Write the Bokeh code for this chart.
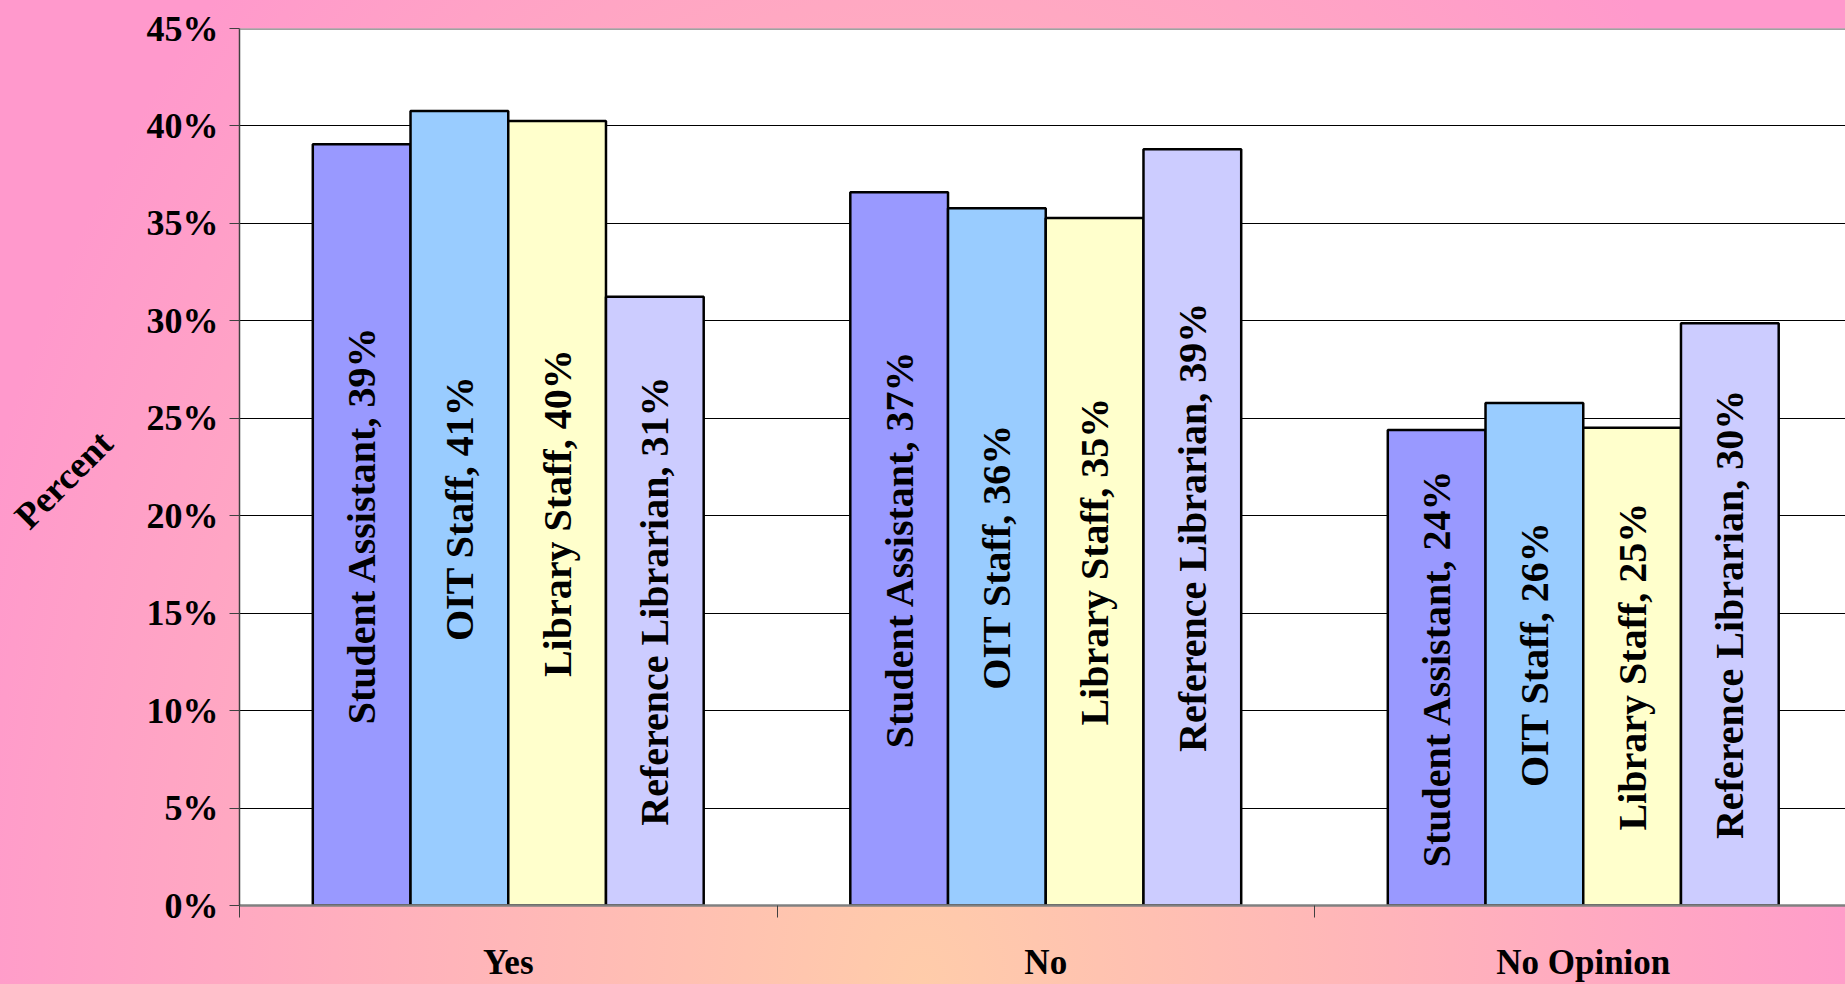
import math
from bokeh.plotting import figure
from bokeh.models import Range1d, FixedTicker, PrintfTickFormatter, Span, ColumnDataSource, Label
from bokeh.core.properties import value
from bokeh.embed import file_html
from bokeh.resources import INLINE

categories = ["Yes", "No", "No Opinion"]
series_names = ["Student Assistant", "OIT Staff", "Library Staff", "Reference Librarian"]
student_assistant = [39.06, 36.60, 24.40]
oit_staff = [40.77, 35.78, 25.78]
library_staff = [40.26, 35.28, 24.52]
reference_librarian = [31.23, 38.80, 29.87]
series_values = [student_assistant, oit_staff, library_staff, reference_librarian]
series_colors = ["#9999FF", "#99CCFF", "#FFFFCC", "#CCCCFF"]
y_ticks = [0, 5, 10, 15, 20, 25, 30, 35, 40, 45]
y_title = "Percent"

FONT = "Liberation Serif"
W, H = 1845, 984
LEFT, TOP, BOTTOM = 239, 28, 78
CAT_PX = 537.5
n_series = len(series_names)
bar_w = 1.0 / (n_series + 1.5)

p = figure(width=W, height=H, output_backend="svg", toolbar_location=None,
           x_range=Range1d(0, (W - LEFT) / CAT_PX), y_range=Range1d(0, 45),
           min_border_left=LEFT, min_border_right=0, min_border_top=TOP,
           min_border_bottom=BOTTOM)
p.styles = {"background-image": "radial-gradient(ellipse 1000px 1400px at 50% 100%, #FFCCAA 0%, #FF99CC 100%)"}
p.border_fill_color = None
p.background_fill_color = "white"
p.outline_line_color = None

for j in range(n_series):
    xs = [i + 0.5 + (j - (n_series - 1) / 2) * bar_w for i in range(len(categories))]
    vals = series_values[j]
    labels = [f"{series_names[j]}, {round(v)}%" for v in vals]
    src = ColumnDataSource(dict(x=xs, top=vals, mid=[v / 2 for v in vals], label=labels))
    p.vbar(x="x", top="top", bottom=0, width=bar_w, source=src,
           fill_color=series_colors[j], line_color="black", line_width=2.5)
    p.text(x="x", y="mid", text="label", source=src, angle=90, angle_units="deg",
           text_align="center", text_baseline="middle", text_font=value(FONT),
           text_font_style="bold", text_font_size="40px", text_color="black")

# grid
p.xgrid.visible = False
p.ygrid.ticker = FixedTicker(ticks=y_ticks[1:-1])
p.ygrid.grid_line_color = "black"
p.ygrid.grid_line_width = 1
p.add_layout(Span(location=45, dimension="width", line_color="#808080", line_width=2.5))

# y axis
p.yaxis.ticker = FixedTicker(ticks=y_ticks)
p.yaxis.formatter = PrintfTickFormatter(format="%d%%")
p.yaxis.major_label_text_font = FONT
p.yaxis.major_label_text_font_style = "bold"
p.yaxis.major_label_text_font_size = "36px"
p.yaxis.major_label_text_color = "black"
p.yaxis.major_label_standoff = 11
p.yaxis.major_tick_in = 0
p.yaxis.major_tick_out = 10
p.yaxis.major_tick_line_color = "#404040"
p.yaxis.minor_tick_line_color = None
p.yaxis.axis_line_color = "#404040"
p.yaxis.axis_line_width = 1.5

# x axis
p.xaxis.ticker = FixedTicker(ticks=[i + 0.5 for i in range(len(categories))],
                             minor_ticks=list(range(len(categories) + 1)))
p.xaxis.major_label_overrides = {i + 0.5: c for i, c in enumerate(categories)}
p.xaxis.major_label_text_font = FONT
p.xaxis.major_label_text_font_style = "bold"
p.xaxis.major_label_text_font_size = "35px"
p.xaxis.major_label_text_color = "black"
p.xaxis.major_label_standoff = 25
p.xaxis.major_tick_in = 0
p.xaxis.major_tick_out = 0
p.xaxis.minor_tick_in = 0
p.xaxis.minor_tick_out = 12
p.xaxis.minor_tick_line_color = "#404040"
p.xaxis.axis_line_color = "#808080"
p.xaxis.axis_line_width = 2.5

# y title, rotated 45 degrees, placed in the left border panel
p.add_layout(Label(x=34, y=(H - BOTTOM) - 480, x_units="screen", y_units="screen",
                   text=y_title, angle=45, angle_units="deg",
                   text_align="center", text_baseline="middle", text_font=FONT,
                   text_font_style="bold", text_font_size="37px", text_color="black"), "left")

open("out.html", "w").write(file_html(p, INLINE))
